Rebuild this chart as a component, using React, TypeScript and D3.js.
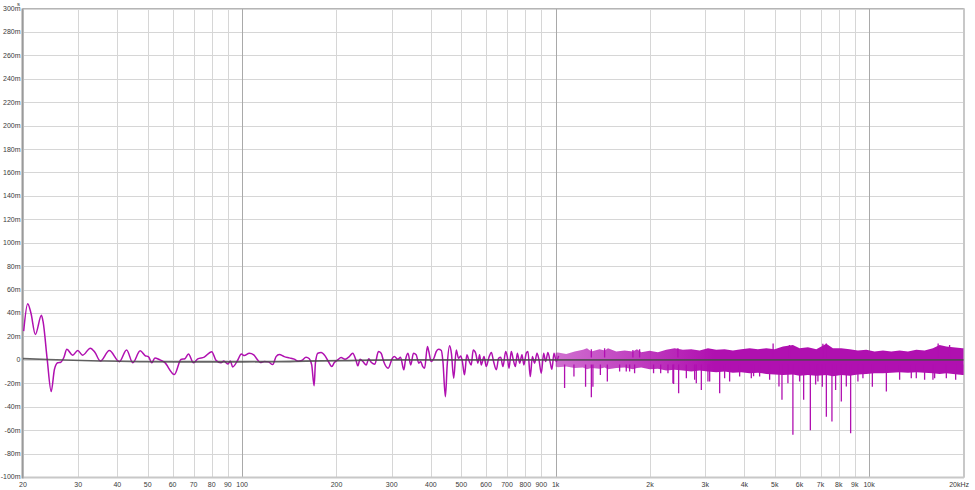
import React from "react";
import * as d3 from "d3";

// ---- Data ----
// Group delay (ms) — explicit trace 20 Hz .. ~1 kHz
const gdFreq = [
  20.1, 20.7, 21.2, 21.9, 22.9, 23.2, 23.9, 24.6, 25.2, 25.8, 26.4, 27, 27.6, 28.8, 29.9, 31, 32.8, 33.9, 35.3, 37.7,
  40.6, 42.8, 44.8, 47.3, 49, 50.3, 51.5, 52.7, 54.4, 56.5, 60.8, 63.8, 65.7, 67.4, 70, 72.2, 75.7, 80, 82.5, 85.6,
  87.4, 90, 91.7, 93.3, 96.8, 99.4, 101.6, 105.4, 108.9, 111.6, 114.3, 117.7, 121.2, 125.2, 128.3, 131.4, 136.3,
  141.4, 146.6, 151, 154.8, 159.9, 163.8, 166.7, 169.7, 171.3, 174.3, 178.6, 183.9, 188.4, 193.2, 196.9, 201.8,
  206.8, 212.9, 219.7, 225.3, 230.9, 233.8, 237.9, 242.7, 248.9, 253.3, 258.5, 265.1, 272.1, 277.6, 282.8, 292.3,
  301.5, 306, 314, 320, 328, 332, 338, 345, 352, 359, 366, 371, 377, 382, 390, 394, 401, 409, 416, 423, 432, 437,
  445, 451, 459, 465, 473, 482, 490, 498, 504, 512, 521, 529, 538, 546, 556, 565, 572, 579, 591, 601, 613, 624, 634,
  647, 658, 668, 679, 693, 701, 710, 722, 733, 744, 755, 768, 781, 792, 806, 816, 830, 843, 857, 872, 885, 900, 916,
  929, 945, 962, 973, 988, 1005, 1022,
];
const gdValue = [
  24.6, 48, 40, 21.7, 38, 32, 0, -27, -8, -2.5, -2, 2, 9, 4, 8, 4, 10, 6.5, -1, 8,
  -1.5, 8.5, -2.5, 7.7, 3.7, 2.6, -2.5, 1.7, 0.3, -2, -12.5, 0.3, 1, 5, -2.5, 0.8, 2.3, 7, -0.3, -2.5,
  -1, -3.5, -1, -6, -0.3, 5, 3.7, 5.7, 4.3, 0.6, -2.3, -1.4, -1.7, -4, 2.8, 4.6, 2.8,
  1.7, 0.6, -1.1, -0.6, 2.3, 0.9, -4.3, -22, -2.8, 5.7, 6.3, 3.4, -1.4, -5.7, -2.3, 0,
  2, 0.6, 2.8, 5.7, -0.6, -5.1, 0.6, -1.4, -4.3, 0.9, -2.3, -3.7, 7.1, 5.7, -1.4, -7.1,
  1.4, 2.8, 0.6, 2.3, -8.5, 0, 5.7, -4.3, 5.7, 4.3, -2.8, -1.4, -5.7, -7.1, 11.4, 7.1, -1.4, 1.4, 7.1, 9.1, 8, -1.4,
  -31.4, -4.3, 12, 5.7, -15.7, 8.5, 1.4, 3.4, -1.4, -12.8, 4.3, -0.6, -4.3, 8.5, 5.7, -2.8, 4.3, -4.3, 2.8, -5.7, 2.3, 6.3, -1.4,
  -8.5, 1.4, 2.3, -5.7, 7.1, 2.8, -7.1, 7.1, 0, -5.7, 5.7, -2.8, 4.3, -4.3, 5.7, 7.1, -14.3, 2.8, -2.8, 5.7, 0, -11.4, 5.7,
  -1.4, 6.3, -2.8, -8, 5.7, -1.4, 3.4,
];

// Dense region 1 kHz .. 20 kHz: envelope of the trace
const bandFreq = [
  1000, 1017, 1081, 1150, 1222, 1259, 1300, 1381, 1434, 1469, 1561, 1660, 1764, 1817, 1876, 1994, 2120, 2254, 2396, 2547,
  2708, 2879, 3061, 3254, 3459, 3677, 3910, 4157, 4419, 4698, 4995, 5310, 5713, 6001, 6381, 6783, 7304, 7666, 8151, 8665,
  9212, 9793, 10410, 11070, 11770, 12510, 13300, 14140, 15030, 15980, 16780, 17630, 18520, 19870, 20000,
];
const bandUpper = [
  6, 6.3, 5.1, 7.1, 8.6, 10, 7.1, 9.1, 8, 10, 7.1, 8, 7.1, 9.1, 6.6, 7.7, 6.6, 8.6, 10, 8.6,
  9.1, 8, 10, 8.6, 9.1, 8, 9.1, 10, 9.1, 10, 9.1, 11.4, 12.8, 10, 10.8, 9.1, 13.7, 10, 10, 9.1,
  8, 8.6, 7.1, 8, 7.1, 8, 7.1, 8.6, 8, 10, 12.8, 11.4, 10.8, 10, 10,
];
const bandLower = [
  -5.7, -6.3, -5.7, -7, -6.5, -8, -7, -7.5, -6.5, -8, -7, -6.5, -8, -7, -6.5, -8, -7.5, -9, -8.5, -9,
  -10, -9, -10, -10.5, -10, -11, -10.5, -11.4, -11, -12, -12.5, -13, -12.5, -13.5, -13, -13.5, -13, -14, -13, -13.5,
  -12.5, -12, -11.4, -11.4, -11, -10.5, -11, -10.5, -11, -11.4, -12, -11.4, -12, -13, -13,
];

// Individual excursions inside the dense region
const spikeFreq = [
  1068, 1144, 1246, 1300, 1315, 1389, 1462, 1600, 1680, 1722, 1786, 2053, 2163, 2282, 2367, 2379, 2468, 2612, 2776, 2810,
  2916, 3061, 3100, 3336, 3460, 3589, 3863, 4209, 4280, 4474, 4815, 5157, 5272, 5508, 5713, 6001, 6182, 6494, 6750, 6866,
  7090, 7304, 7610, 7818, 8153, 8458, 8730, 9210, 9555, 10240, 11350, 12510, 13630, 14140, 15030, 15980, 16180, 17630, 18880, 19870,
];
const spikeValue = [
  -24, -14.3, -23, -32, -23, -13, -18.5, -10, -10, -10, -11.4, -11.4, -11.4, -11.4, -20, -20.5, -28.5, -15.7, -17, -20,
  -25.7, -18.5, -18.5, -28.5, -15.7, -18.5, -14.3, -15.7, -14, -14.3, -17, -22.8, -34, -20, -64, -18.5, -34, -60, -21, -18.5,
  -23, -48.5, -52.7, -25.7, -35.6, -22.8, -62.7, -18.5, -15.7, -23, -27, -17, -15.7, -15.7, -17, -17, -15.7, -15.7, -17, -13,
];
const peakFreq = [1300, 1433, 1764, 1853, 2455, 4940, 5570, 7120, 7300, 16600, 18060];
const peakValue = [9, 10, 8.5, 9, 10, 14, 12.8, 13.7, 14, 14, 12.8];

// Smoothed reference trace (grey)
const refFreq = [20, 24, 35, 50, 75, 100, 130, 160, 210, 320, 1000, 5000, 20000];
const refValue = [1.1, 0.3, -0.9, -1.6, -1.7, -1.7, -1.6, -1.1, -0.6, 0, 0, 0, 0];

// Axis ticks
const xTicks = [20, 30, 40, 50, 60, 70, 80, 90, 100, 200, 300, 400, 500, 600, 700, 800, 900, 1000, 2000, 3000, 4000, 5000, 6000, 7000, 8000, 9000, 10000, 20000];
const xTickLabels = ["20", "30", "40", "50", "60", "70", "80", "90", "100", "200", "300", "400", "500", "600", "700", "800", "900", "1k", "2k", "3k", "4k", "5k", "6k", "7k", "8k", "9k", "10k", "20kHz"];
const majorX = [100, 1000, 10000];
const yTicks = d3.range(-100, 301, 20);

const W = 975;
const H = 490;
const PURPLE = "#b010b0";
const FONT = "'Liberation Sans', Arial, sans-serif";

export default function App() {
  const x = d3.scaleLog().domain([20, 20000]).range([23, 963.5]);
  const y = d3.scaleLinear().domain([-100, 300]).range([477, 8.5]);

  const gdPts = gdFreq.map((f, i) => [f, gdValue[i]] as [number, number]);
  const line = d3
    .line<[number, number]>()
    .x((d) => x(d[0]))
    .y((d) => y(d[1]))
    .curve(d3.curveMonotoneX);

  const bandPts = bandFreq.map((f, i) => ({ f, u: bandUpper[i], l: bandLower[i] }));
  const area = d3
    .area<{ f: number; u: number; l: number }>()
    .x((d) => x(d.f))
    .y0((d) => y(d.l))
    .y1((d) => y(d.u));

  const refPts = refFreq.map((f, i) => [f, refValue[i]] as [number, number]);
  const refLine = d3
    .line<[number, number]>()
    .x((d) => x(d[0]))
    .y((d) => y(d[1]))
    .curve(d3.curveMonotoneX);

  const left = 22.5;
  const right = 964;
  const top = 8.5;
  const bottom = 477.5;

  return (
    <div style={{ position: "absolute", left: 0, top: 0, width: W, height: H, background: "#fff" }}>
      <svg width={W} height={H} style={{ display: "block" }}>
        <defs>
          <linearGradient id="bandGrad" gradientUnits="userSpaceOnUse" x1={x(1000)} x2={x(3200)} y1={0} y2={0}>
            <stop offset="0" stopColor={PURPLE} stopOpacity={0.6} />
            <stop offset="1" stopColor={PURPLE} stopOpacity={1} />
          </linearGradient>
          <clipPath id="plotClip">
            <rect x={left} y={top} width={right - left} height={bottom - top} />
          </clipPath>
        </defs>
        <rect x={0} y={0} width={W} height={H} fill="#fff" />

        {/* horizontal grid */}
        {yTicks.map((v) => (
          <line key={"h" + v} x1={left} x2={right} y1={Math.round(y(v)) + 0.5} y2={Math.round(y(v)) + 0.5} stroke="#d6d6d6" strokeWidth={1} />
        ))}
        {/* vertical grid */}
        {xTicks.map((f) => (
          <line
            key={"v" + f}
            x1={Math.round(x(f)) + 0.5}
            x2={Math.round(x(f)) + 0.5}
            y1={top}
            y2={bottom}
            stroke={majorX.includes(f) ? "#a9a9a9" : "#d6d6d6"}
            strokeWidth={1}
          />
        ))}

        {/* frame */}
        <line x1={left} x2={right} y1={top} y2={top} stroke="#b5b5b5" strokeWidth={1} />
        <line x1={right} x2={right} y1={top} y2={bottom} stroke="#c8c8c8" strokeWidth={2} />
        <line x1={left} x2={right} y1={bottom} y2={bottom} stroke="#c8c8c8" strokeWidth={2} />
        <line x1={left} x2={left} y1={top} y2={bottom + 1} stroke="#9a9a9a" strokeWidth={2} />

        <g clipPath="url(#plotClip)">
          {/* dense high-frequency band */}
          <path d={area(bandPts) || ""} fill="url(#bandGrad)" stroke="none" />
          {spikeFreq.map((f, i) => (
            <line key={"s" + i} x1={x(f)} x2={x(f)} y1={y(-4)} y2={y(spikeValue[i])} stroke={PURPLE} strokeWidth={1.3} />
          ))}
          {peakFreq.map((f, i) => (
            <line key={"p" + i} x1={x(f)} x2={x(f)} y1={y(2)} y2={y(peakValue[i])} stroke={PURPLE} strokeWidth={1.3} />
          ))}
          {/* explicit low/mid frequency trace */}
          <path d={line(gdPts) || ""} fill="none" stroke={PURPLE} strokeWidth={1.5} strokeLinejoin="round" />
          {/* smoothed trace */}
          <path d={refLine(refPts) || ""} fill="none" stroke="#4a4a4a" strokeOpacity={0.85} strokeWidth={1.6} />
        </g>

        {/* y labels */}
        {yTicks.map((v) => (
          <text key={"yl" + v} x={20.5} y={y(v)} dy="0.35em" textAnchor="end" fontFamily={FONT} fontSize={7} fill="#3a3a3a">
            {v === 0 ? "0" : `${v}m`}
          </text>
        ))}
        <text x={18.5} y={5.6} textAnchor="middle" fontFamily={FONT} fontSize={6} fill="#3a3a3a">
          s
        </text>

        {/* x labels */}
        {xTicks.map((f, i) => (
          <text
            key={"xl" + f}
            x={f === 20000 ? 969 : x(f)}
            y={486.5}
            textAnchor={f === 20000 ? "end" : "middle"}
            fontFamily={FONT}
            fontSize={7}
            fill="#3a3a3a"
          >
            {xTickLabels[i]}
          </text>
        ))}
      </svg>
    </div>
  );
}
